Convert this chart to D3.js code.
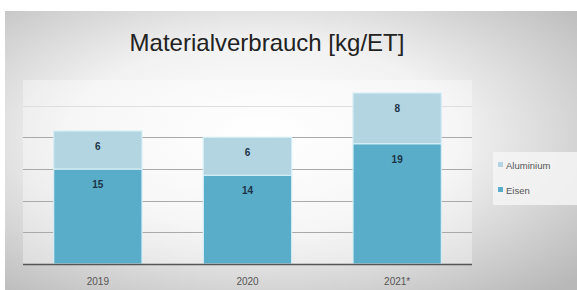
<!DOCTYPE html>
<html><head><meta charset="utf-8">
<script src="https://cdn.jsdelivr.net/npm/d3@7"></script>
<style>body{margin:0;background:#fff}svg{display:block}</style>
</head><body><svg id="c" width="577" height="290"></svg>
<script>
const categories = ["2019", "2020", "2021*"];
const eisen = [15, 14, 19];
const aluminium = [6, 6, 8];
const yTicks = [0, 5, 10, 15, 20, 25];
const seriesNames = ["Aluminium", "Eisen"];

const svg = d3.select("#c");
const defs = svg.append("defs");
const rg = defs.append("radialGradient").attr("id","bg").attr("cx","45%").attr("cy","45%").attr("r","75%");
rg.append("stop").attr("offset","0%").attr("stop-color","#ffffff");
rg.append("stop").attr("offset","45%").attr("stop-color","#f2f2f2");
rg.append("stop").attr("offset","100%").attr("stop-color","#b8b8b8");
svg.append("rect").attr("x",5).attr("y",11).attr("width",572).attr("height",279).attr("fill","url(#bg)");

const x = d3.scaleBand().domain(categories).range([23, 472]).paddingInner(0.41).paddingOuter(0.205);
const y = d3.scaleLinear().domain([0, 30]).range([264, 74]);

// plot area
svg.append("rect").attr("x",23).attr("y",80).attr("width",449).attr("height",184).attr("fill","#ffffff").attr("opacity",0.35);

svg.append("g").selectAll("line").data(yTicks.filter(d=>d>0)).join("line")
  .attr("x1",23).attr("x2",472).attr("y1",d=>Math.round(y(d))+0.5).attr("y2",d=>Math.round(y(d))+0.5)
  .attr("stroke",d=>d===25?"#dedede":"#a9a9a9").attr("stroke-width",1);

const stackData = categories.map((c,i)=>({cat:c, Eisen:eisen[i], Aluminium:aluminium[i]}));
const stack = d3.stack().keys(["Eisen","Aluminium"])(stackData);
const colors = {Eisen:"#5aadc8", Aluminium:"#b3d5e1"};

stack.forEach(s=>{
  svg.append("g").selectAll("rect").data(s).join("rect")
    .attr("x",d=>x(d.data.cat)).attr("width",x.bandwidth())
    .attr("y",d=>y(d[1])).attr("height",d=>y(d[0])-y(d[1]))
    .attr("fill",colors[s.key]).attr("stroke","#d4eef6").attr("stroke-width",1.2);
  svg.append("g").selectAll("text").data(s).join("text")
    .attr("x",d=>x(d.data.cat)+x.bandwidth()/2).attr("y",d=>y(d[1])+19)
    .attr("text-anchor","middle").attr("font-family","Liberation Sans, Arial, sans-serif")
    .attr("font-size",10).attr("font-weight","bold").attr("fill","#1d3347")
    .text(d=>d.data[s.key]);
});

svg.append("line").attr("x1",23).attr("x2",472).attr("y1",264.5).attr("y2",264.5).attr("stroke","#555").attr("stroke-width",1.5);

const xa = svg.append("g").attr("transform","translate(0,264)").call(d3.axisBottom(x).tickSize(0).tickPadding(14));
xa.select(".domain").remove();
xa.selectAll("text").attr("font-family","Liberation Sans, Arial, sans-serif").attr("font-size",10).attr("fill","#555");

svg.append("text").attr("x",267).attr("y",51).attr("text-anchor","middle")
  .attr("font-family","Liberation Sans, Arial, sans-serif").attr("font-size",24).attr("fill","#222")
  .text("Materialverbrauch [kg/ET]");

// legend
svg.append("rect").attr("x",493).attr("y",152).attr("width",84).attr("height",53).attr("fill","#f4f4f4").attr("opacity",0.85);
const lg = svg.append("g").selectAll("g").data(seriesNames).join("g")
  .attr("transform",(d,i)=>`translate(498,${165+i*25})`);
lg.append("rect").attr("x",0).attr("y",-3).attr("width",5).attr("height",5).attr("fill",d=>colors[d]);
lg.append("text").attr("x",8).attr("y",3.5).attr("font-family","Liberation Sans, Arial, sans-serif")
  .attr("font-size",9.5).attr("fill","#555").text(d=>d);
</script></body></html>
